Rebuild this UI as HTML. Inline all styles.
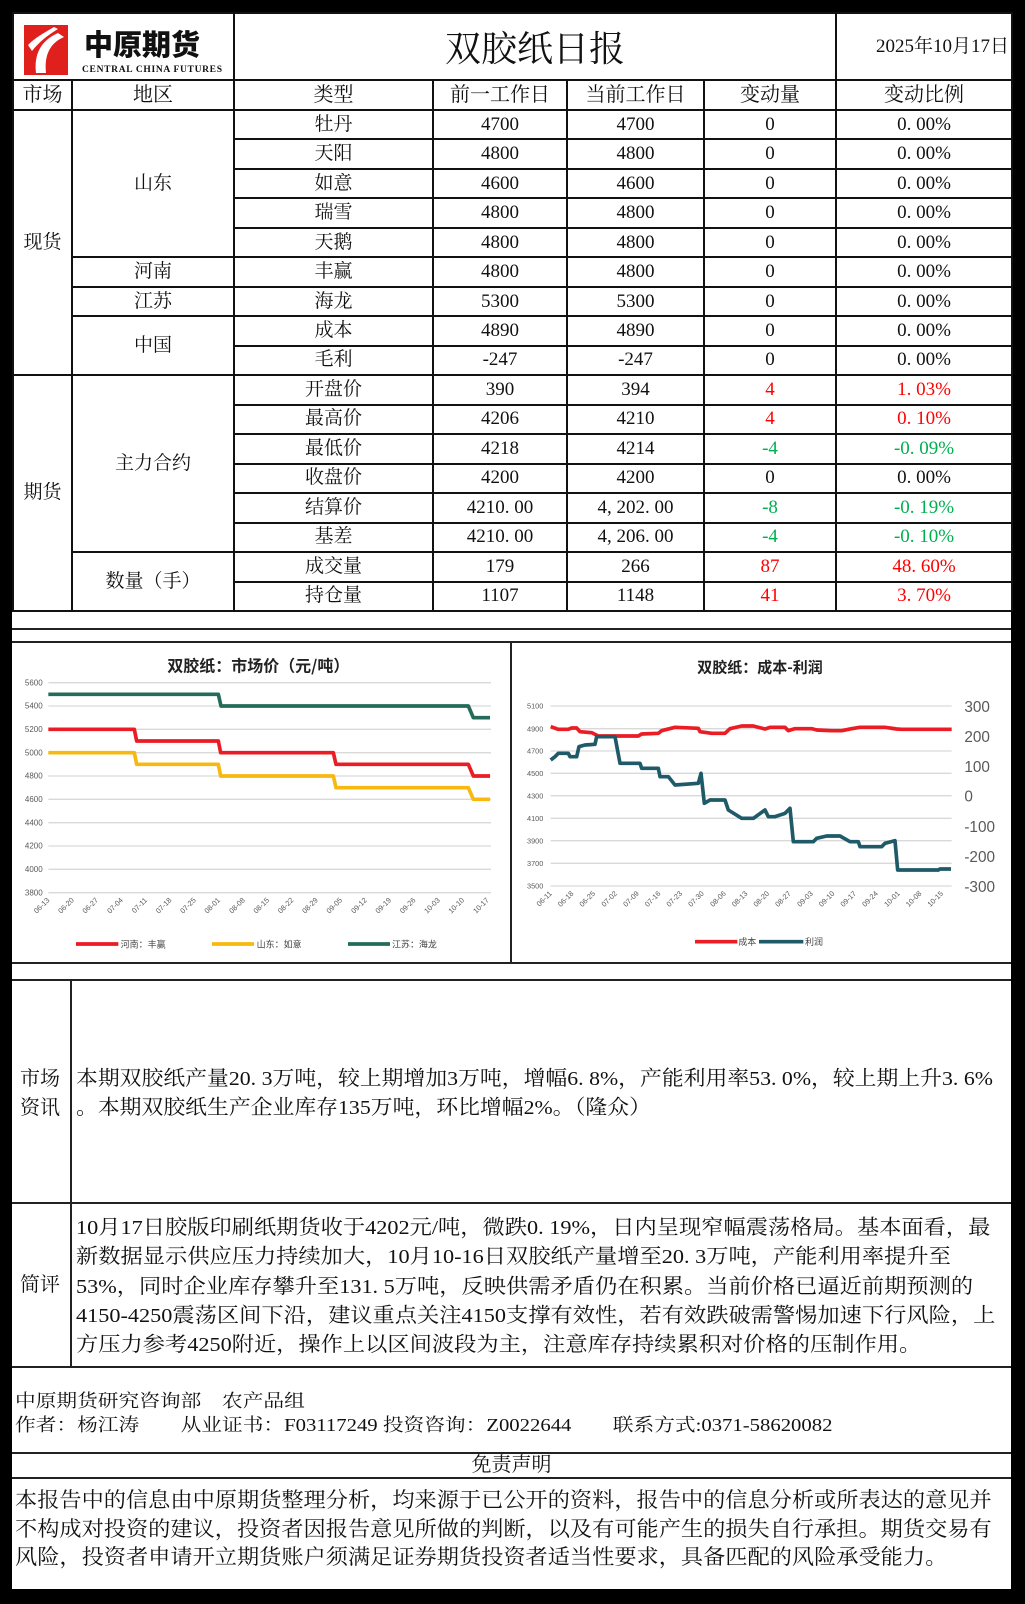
<!DOCTYPE html>
<html><head><meta charset="utf-8">
<style>
*{margin:0;padding:0;box-sizing:border-box}
body{width:1025px;height:1604px;background:#000;position:relative;overflow:hidden;font-family:"Liberation Serif","Noto Serif CJK SC",serif;color:#111}
#page{position:absolute;left:12px;top:12px;width:999px;height:1577px;background:#fff}
table{position:absolute;left:12px;top:12px;width:999px;border-collapse:collapse;table-layout:fixed}
td{border:2px solid #111;text-align:center;vertical-align:middle;font-size:19px;line-height:20px;padding:0;white-space:nowrap;overflow:hidden}
tr.d td{height:29.47px}
.r{color:#f00}.g{color:#00b050}
.abs{position:absolute}
.hl{position:absolute;left:12px;width:999px;height:2px;background:#222}
.vl{position:absolute;width:2px;background:#222}
.txt{position:absolute;font-size:20.5px;line-height:28.5px;white-space:nowrap;transform-origin:0 0}
</style></head><body>
<div id="page"></div>
<table>
<colgroup><col style="width:59px"><col style="width:162px"><col style="width:199px"><col style="width:134px"><col style="width:137px"><col style="width:132px"><col style="width:176px"></colgroup>
<tr style="height:67px"><td colspan="2" style="position:relative">
<svg width="221" height="63" style="display:block">
<rect x="10" y="10" width="44" height="50" fill="#e0201c"/>
<path d="M22,58 C20,40 26,26 44,18 L50,22 C36,28 30,40 32,58 Z" fill="#fff"/>
<path d="M14,30 C22,22 30,18 40,12 L44,14 C34,20 26,26 18,36 Z" fill="#fff"/>
<text x="70" y="40" font-family="Noto Sans CJK SC,sans-serif" font-weight="900" font-size="29" fill="#111">中原期货</text>
<text x="68" y="57" font-family="Liberation Serif,serif" font-weight="bold" font-size="9.5" fill="#111" textLength="140">CENTRAL CHINA FUTURES</text>
</svg></td>
<td colspan="4" style="font-size:36px;line-height:40px;font-family:'Noto Serif CJK SC',serif">双胶纸日报</td>
<td style="font-size:19px;text-align:right;padding-right:2px">2025年10月17日</td></tr>
<tr style="height:30px"><td style="font-size:20px">市场</td><td style="font-size:20px">地区</td><td style="font-size:20px">类型</td><td style="font-size:20px">前一工作日</td><td style="font-size:20px">当前工作日</td><td style="font-size:20px">变动量</td><td style="font-size:20px">变动比例</td></tr>
<tr class="d"><td rowspan="9">现货</td><td rowspan="5">山东</td><td>牡丹</td><td>4700</td><td>4700</td><td>0</td><td>0. 00%</td></tr>
<tr class="d"><td>天阳</td><td>4800</td><td>4800</td><td>0</td><td>0. 00%</td></tr>
<tr class="d"><td>如意</td><td>4600</td><td>4600</td><td>0</td><td>0. 00%</td></tr>
<tr class="d"><td>瑞雪</td><td>4800</td><td>4800</td><td>0</td><td>0. 00%</td></tr>
<tr class="d"><td>天鹅</td><td>4800</td><td>4800</td><td>0</td><td>0. 00%</td></tr>
<tr class="d"><td>河南</td><td>丰赢</td><td>4800</td><td>4800</td><td>0</td><td>0. 00%</td></tr>
<tr class="d"><td>江苏</td><td>海龙</td><td>5300</td><td>5300</td><td>0</td><td>0. 00%</td></tr>
<tr class="d"><td rowspan="2">中国</td><td>成本</td><td>4890</td><td>4890</td><td>0</td><td>0. 00%</td></tr>
<tr class="d"><td>毛利</td><td>-247</td><td>-247</td><td>0</td><td>0. 00%</td></tr>
<tr class="d"><td rowspan="8">期货</td><td rowspan="6">主力合约</td><td>开盘价</td><td>390</td><td>394</td><td class="r">4</td><td class="r">1. 03%</td></tr>
<tr class="d"><td>最高价</td><td>4206</td><td>4210</td><td class="r">4</td><td class="r">0. 10%</td></tr>
<tr class="d"><td>最低价</td><td>4218</td><td>4214</td><td class="g">-4</td><td class="g">-0. 09%</td></tr>
<tr class="d"><td>收盘价</td><td>4200</td><td>4200</td><td>0</td><td>0. 00%</td></tr>
<tr class="d"><td>结算价</td><td>4210. 00</td><td>4, 202. 00</td><td class="g">-8</td><td class="g">-0. 19%</td></tr>
<tr class="d"><td>基差</td><td>4210. 00</td><td>4, 206. 00</td><td class="g">-4</td><td class="g">-0. 10%</td></tr>
<tr class="d"><td rowspan="2">数量（手）</td><td>成交量</td><td>179</td><td>266</td><td class="r">87</td><td class="r">48. 60%</td></tr>
<tr class="d"><td>持仓量</td><td>1107</td><td>1148</td><td class="r">41</td><td class="r">3. 70%</td></tr>
</table>

<div class="hl" style="top:628px"></div>
<div class="hl" style="top:641px"></div>
<div class="hl" style="top:962px"></div>
<div class="vl" style="left:510px;top:641px;height:323px"></div>
<div class="hl" style="top:979px"></div>
<div class="hl" style="top:1202px"></div>
<div class="hl" style="top:1366px"></div>
<div class="hl" style="top:1452px"></div>
<div class="hl" style="top:1477px"></div>
<div class="vl" style="left:70px;top:979px;height:389px"></div>

<svg class="abs" style="left:0;top:0" width="1025" height="1604" font-family="Liberation Sans,Noto Sans CJK SC,sans-serif">
<g transform="translate(0,630) scale(0.33333)">
<text x="775" y="125" text-anchor="middle" font-size="48" font-weight="bold" font-family="Noto Sans CJK SC,sans-serif" fill="#222">双胶纸：市场价（元/吨）</text>
<g stroke="#d9d9d9" stroke-width="4">
<line x1="145" x2="1473" y1="158" y2="158"/><line x1="145" x2="1473" y1="228" y2="228"/><line x1="145" x2="1473" y1="298" y2="298"/><line x1="145" x2="1473" y1="368" y2="368"/><line x1="145" x2="1473" y1="438" y2="438"/><line x1="145" x2="1473" y1="508" y2="508"/><line x1="145" x2="1473" y1="578" y2="578"/><line x1="145" x2="1473" y1="648" y2="648"/><line x1="145" x2="1473" y1="718" y2="718"/><line x1="145" x2="1473" y1="788" y2="788"/>
</g>
<g font-size="24" fill="#595959" text-anchor="end">
<text x="128" y="166">5600</text><text x="128" y="236">5400</text><text x="128" y="306">5200</text><text x="128" y="376">5000</text><text x="128" y="446">4800</text><text x="128" y="516">4600</text><text x="128" y="586">4400</text><text x="128" y="656">4200</text><text x="128" y="726">4000</text><text x="128" y="796">3800</text>
</g>
<g font-size="22" fill="#595959" text-anchor="end">
<text transform="translate(150,812) rotate(-45)">06-13</text><text transform="translate(223,812) rotate(-45)">06-20</text><text transform="translate(296,812) rotate(-45)">06-27</text><text transform="translate(370,812) rotate(-45)">07-04</text><text transform="translate(443,812) rotate(-45)">07-11</text><text transform="translate(516,812) rotate(-45)">07-18</text><text transform="translate(589,812) rotate(-45)">07-25</text><text transform="translate(662,812) rotate(-45)">08-01</text><text transform="translate(736,812) rotate(-45)">08-08</text><text transform="translate(809,812) rotate(-45)">08-15</text><text transform="translate(882,812) rotate(-45)">08-22</text><text transform="translate(955,812) rotate(-45)">08-29</text><text transform="translate(1028,812) rotate(-45)">09-05</text><text transform="translate(1102,812) rotate(-45)">09-12</text><text transform="translate(1175,812) rotate(-45)">09-19</text><text transform="translate(1248,812) rotate(-45)">09-26</text><text transform="translate(1321,812) rotate(-45)">10-03</text><text transform="translate(1394,812) rotate(-45)">10-10</text><text transform="translate(1468,812) rotate(-45)">10-17</text>
</g>
<g fill="none" stroke-width="11" stroke-linejoin="round">
<path stroke="#246b5b" d="M145,193 H655 L663,228 H1405 L1420,263 H1470"/>
<path stroke="#ec1c24" d="M145,298 H403 L410,333 H655 L662,368 H1000 L1008,403 H1405 L1420,438 H1470"/>
<path stroke="#f7b80f" d="M145,368 H403 L410,403 H655 L662,438 H1000 L1008,473 H1405 L1420,508 H1470"/>
</g>
<g stroke-width="11"><line x1="228" x2="355" y1="942" y2="942" stroke="#ec1c24"/><line x1="636" x2="762" y1="942" y2="942" stroke="#f7b80f"/><line x1="1044" x2="1170" y1="942" y2="942" stroke="#246b5b"/></g>
<g font-size="27" fill="#444" font-family="Noto Sans CJK SC,sans-serif"><text x="362" y="952">河南：丰赢</text><text x="770" y="952">山东：如意</text><text x="1176" y="952">江苏：海龙</text></g>
</g>

<g transform="translate(505,630) scale(0.33333)">
<text x="765" y="128" text-anchor="middle" font-size="45" font-weight="bold" font-family="Noto Sans CJK SC,sans-serif" fill="#222">双胶纸：成本-利润</text>
<g stroke="#d9d9d9" stroke-width="4">
<line x1="137" x2="1340" y1="228" y2="228"/><line x1="137" x2="1340" y1="296" y2="296"/><line x1="137" x2="1340" y1="363" y2="363"/><line x1="137" x2="1340" y1="430" y2="430"/><line x1="137" x2="1340" y1="497" y2="497"/><line x1="137" x2="1340" y1="565" y2="565"/><line x1="137" x2="1340" y1="632" y2="632"/><line x1="137" x2="1340" y1="700" y2="700"/><line x1="137" x2="1340" y1="768" y2="768"/>
</g>
<g font-size="22" fill="#595959" text-anchor="end">
<text x="115" y="236">5100</text><text x="115" y="304">4900</text><text x="115" y="371">4700</text><text x="115" y="438">4500</text><text x="115" y="505">4300</text><text x="115" y="573">4100</text><text x="115" y="640">3900</text><text x="115" y="708">3700</text><text x="115" y="776">3500</text>
</g>
<g font-size="46" fill="#595959">
<text x="1378" y="246">300</text><text x="1378" y="336">200</text><text x="1378" y="426">100</text><text x="1378" y="515">0</text><text x="1378" y="606">-100</text><text x="1378" y="696">-200</text><text x="1378" y="786">-300</text>
</g>
<g font-size="22" fill="#595959" text-anchor="end">
<text transform="translate(142,792) rotate(-45)">06-11</text><text transform="translate(207,792) rotate(-45)">06-18</text><text transform="translate(272,792) rotate(-45)">06-25</text><text transform="translate(338,792) rotate(-45)">07-02</text><text transform="translate(403,792) rotate(-45)">07-09</text><text transform="translate(468,792) rotate(-45)">07-16</text><text transform="translate(533,792) rotate(-45)">07-23</text><text transform="translate(598,792) rotate(-45)">07-30</text><text transform="translate(664,792) rotate(-45)">08-06</text><text transform="translate(729,792) rotate(-45)">08-13</text><text transform="translate(794,792) rotate(-45)">08-20</text><text transform="translate(859,792) rotate(-45)">08-27</text><text transform="translate(925,792) rotate(-45)">09-03</text><text transform="translate(990,792) rotate(-45)">09-10</text><text transform="translate(1055,792) rotate(-45)">09-17</text><text transform="translate(1120,792) rotate(-45)">09-24</text><text transform="translate(1186,792) rotate(-45)">10-01</text><text transform="translate(1251,792) rotate(-45)">10-08</text><text transform="translate(1316,792) rotate(-45)">10-15</text>
</g>
<g fill="none" stroke-width="11" stroke-linejoin="round">
<path stroke="#ec1c24" d="M137,290 L160,298 L190,298 L200,294 L215,294 L225,305 L260,308 L280,318 L400,318 L410,312 L460,310 L470,302 L510,292 L580,295 L585,305 L620,310 L660,310 L675,296 L710,288 L745,288 L780,297 L795,292 L840,292 L850,302 L870,296 L920,296 L935,300 L980,302 L1010,302 L1040,296 L1065,292 L1140,292 L1175,297 L1190,298 L1340,298"/>
<path stroke="#1f5a68" d="M137,390 L150,380 L160,370 L190,370 L195,380 L215,380 L222,350 L240,345 L270,343 L275,320 L330,320 L345,400 L405,400 L410,415 L460,415 L465,440 L490,440 L510,465 L580,460 L588,430 L598,520 L615,510 L660,510 L670,540 L710,565 L745,565 L780,540 L790,560 L810,560 L840,550 L855,535 L865,635 L925,635 L935,625 L965,618 L1005,618 L1035,635 L1060,635 L1065,650 L1130,650 L1140,640 L1170,632 L1178,720 L1300,720 L1305,717 L1338,717"/>
</g>
<g stroke-width="11"><line x1="570" x2="697" y1="935" y2="935" stroke="#ec1c24"/><line x1="762" x2="895" y1="935" y2="935" stroke="#1f5a68"/></g>
<g font-size="27" fill="#444" font-family="Noto Sans CJK SC,sans-serif"><text x="700" y="945">成本</text><text x="900" y="945">利润</text></g>
</g>
</svg>

<div class="txt" style="left:20px;top:1065px;font-size:20px">市场<br>资讯</div>
<div class="txt" style="left:76px;top:1065px;transform:scaleX(1.065)">本期双胶纸产量20. 3万吨，较上期增加3万吨，增幅6. 8%，产能利用率53. 0%，较上期上升3. 6%<br>。本期双胶纸生产企业库存135万吨，环比增幅2%。（隆众）</div>
<div class="txt" style="left:20px;top:1271px;font-size:20px">简评</div>
<div class="txt" style="left:76px;top:1214px;line-height:29.3px;transform:scaleX(1.085)">10月17日胶版印刷纸期货收于4202元/吨，微跌0. 19%，日内呈现窄幅震荡格局。基本面看，最<br>新数据显示供应压力持续加大，10月10-16日双胶纸产量增至20. 3万吨，产能利用率提升至<br>53%，同时企业库存攀升至131. 5万吨，反映供需矛盾仍在积累。当前价格已逼近前期预测的<br>4150-4250震荡区间下沿，建议重点关注4150支撑有效性，若有效跌破需警惕加速下行风险，上<br>方压力参考4250附近，操作上以区间波段为主，注意库存持续累积对价格的压制作用。</div>
<div class="txt" style="left:15px;top:1389px;font-size:18px;line-height:24px;transform:scaleX(1.15)">中原期货研究咨询部　农产品组<br>作者：杨江涛　　从业证书：F03117249 投资咨询：Z0022644　　联系方式:0371-58620082</div>
<div class="txt" style="left:12px;top:1452px;width:999px;text-align:center;font-size:20px;line-height:26px">免责声明</div>
<div class="txt" style="left:15px;top:1486px;font-size:21px;line-height:28.5px;transform:scaleX(1.057)">本报告中的信息由中原期货整理分析，均来源于已公开的资料，报告中的信息分析或所表达的意见并<br>不构成对投资的建议，投资者因报告意见所做的判断，以及有可能产生的损失自行承担。期货交易有<br>风险，投资者申请开立期货账户须满足证券期货投资者适当性要求，具备匹配的风险承受能力。</div>
</body></html>
